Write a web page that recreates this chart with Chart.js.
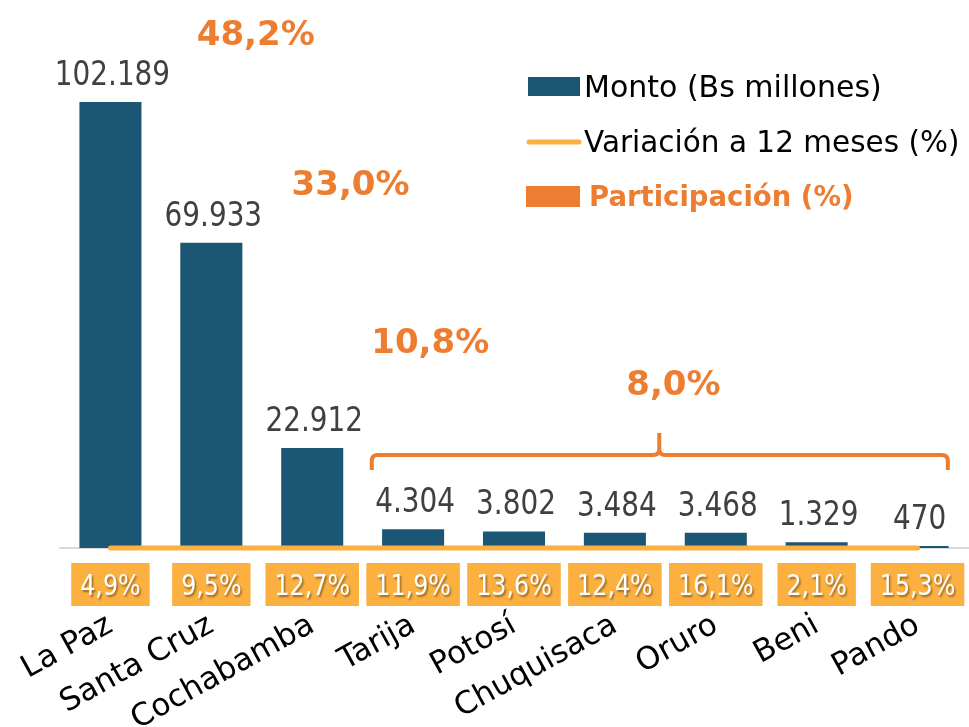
<!DOCTYPE html>
<html>
<head>
<meta charset="utf-8">
<script src="https://cdn.jsdelivr.net/npm/chart.js@4.4.1/dist/chart.umd.min.js"></script>
<style>
    body { margin: 0; background: #fff; }
    #wrap { width: 969px; height: 727px; position: relative; }
</style>
</head>
<body>
<div id="wrap"><canvas id="barchart"></canvas></div>
<script>
const departamentos = ['La Paz', 'Santa Cruz', 'Cochabamba', 'Tarija', 'Potosí', 'Chuquisaca', 'Oruro', 'Beni', 'Pando'];
const monto = [102189, 69933, 22912, 4304, 3802, 3484, 3468, 1329, 470];
const variacion = [4.9, 9.5, 12.7, 11.9, 13.6, 12.4, 16.1, 2.1, 15.3];
const participacion = [48.2, 33.0, 10.8, 8.0];

const navy = '#1B5674';
const gold = '#FBB040';
const orange = '#ED7D31';
const font = 'DejaVu Sans';

function fmtMiles(v) {
    return String(v).replace(/\B(?=(\d{3})+(?!\d))/g, '.');
}

function fmtPct(v) {
    return v.toFixed(1).replace('.', ',') + '%';
}

// narrow text (the original uses a condensed face)
function drawText(ctx, text, x, y, f, color, sx) {
    ctx.save();
    ctx.font = f;
    ctx.fillStyle = color;
    ctx.textAlign = 'center';
    ctx.textBaseline = 'alphabetic';
    ctx.translate(x, y);
    ctx.scale(sx, 1);
    ctx.fillText(text, 0, 0);
    ctx.restore();
}

const overlayPlugin = {
    id: 'overlay',
    afterDraw(chart) {
        const ctx = chart.ctx;
        const xs = chart.scales.x;
        const ys = chart.scales.y;
        const bottom = chart.chartArea.bottom;

        // values above bars
        const bars = chart.getDatasetMeta(0).data;
        bars.forEach(function(bar, i) {
            drawText(ctx, fmtMiles(monto[i]), bar.x + 2, bar.y - 17, '34px "' + font + '"', '#404040', 0.82);
        });

        // variation boxes under the axis
        variacion.forEach(function(v, i) {
            const x = xs.getPixelForValue(i);
            const txt = fmtPct(v);
            ctx.save();
            ctx.font = '29px "' + font + '"';
            const w = ctx.measureText(txt).width * 0.82 + 18;
            ctx.fillStyle = gold;
            ctx.fillRect(x - w / 2, bottom + 15, w, 43);
            ctx.restore();
            ctx.save();
            ctx.shadowColor = 'rgba(0,0,0,0.4)';
            ctx.shadowOffsetX = 1.5;
            ctx.shadowOffsetY = 1.5;
            ctx.shadowBlur = 2;
            drawText(ctx, txt, x, bottom + 47, '29px "' + font + '"', '#fff', 0.82);
            ctx.restore();
        });

        // participation annotations
        const partPos = [[1.44, 115270], [2.38, 80900], [3.17, 44690], [5.58, 35060]];
        participacion.forEach(function(p, i) {
            const x = xs.getPixelForValue(partPos[i][0]);
            const y = ys.getPixelForValue(partPos[i][1]);
            drawText(ctx, fmtPct(p), x, y, 'bold 34px "' + font + '"', orange, 1);
        });

        // bracket over the smaller departments
        const L = xs.getPixelForValue(2.59);
        const R = xs.getPixelForValue(8.30);
        const cx = xs.getPixelForValue(5.44);
        const yTop = ys.getPixelForValue(21310);
        const yBot = ys.getPixelForValue(17880);
        const ySpike = ys.getPixelForValue(26350);
        const r = 6;
        ctx.save();
        ctx.strokeStyle = orange;
        ctx.lineWidth = 4;
        ctx.beginPath();
        ctx.moveTo(L, yBot);
        ctx.lineTo(L, yTop + r);
        ctx.quadraticCurveTo(L, yTop, L + r, yTop);
        ctx.lineTo(cx - r, yTop);
        ctx.quadraticCurveTo(cx, yTop, cx, yTop - r);
        ctx.lineTo(cx, ySpike);
        ctx.moveTo(cx, yTop - r);
        ctx.quadraticCurveTo(cx, yTop, cx + r, yTop);
        ctx.lineTo(R - r, yTop);
        ctx.quadraticCurveTo(R, yTop, R, yTop + r);
        ctx.lineTo(R, yBot);
        ctx.stroke();
        ctx.restore();

        // legend
        ctx.save();
        ctx.fillStyle = navy;
        ctx.fillRect(528, 77, 52, 19);
        ctx.strokeStyle = gold;
        ctx.lineWidth = 5;
        ctx.lineCap = 'round';
        ctx.beginPath();
        ctx.moveTo(529, 142);
        ctx.lineTo(579, 142);
        ctx.stroke();
        ctx.fillStyle = orange;
        ctx.fillRect(526, 186, 54, 21);
        ctx.textAlign = 'left';
        ctx.textBaseline = 'alphabetic';
        ctx.fillStyle = '#000';
        ctx.font = '30px "' + font + '"';
        ctx.fillText(chart.data.datasets[0].label, 584, 97);
        ctx.font = '29.5px "' + font + '"';
        ctx.fillText(chart.data.datasets[1].label, 584, 152);
        ctx.fillStyle = orange;
        ctx.font = 'bold 27.5px "' + font + '"';
        ctx.fillText('Participación (%)', 589, 206);
        ctx.restore();
    }
};

function createChart() {
    const ctx = document.querySelector('#barchart').getContext('2d');

    const configuration = {
        type: 'bar',
        data: {
            labels: departamentos,
            datasets: [
                {
                    label: 'Monto (Bs millones)',
                    data: monto,
                    backgroundColor: navy,
                    categoryPercentage: 1,
                    barPercentage: 0.615,
                    order: 1
                },
                {
                    type: 'line',
                    label: 'Variación a 12 meses (%)',
                    data: variacion,
                    borderColor: gold,
                    borderWidth: 5,
                    borderCapStyle: 'round',
                    pointRadius: 0,
                    fill: false,
                    clip: false,
                    order: 0
                }
            ]
        },
        options: {
            responsive: true,
            maintainAspectRatio: false,
            animation: false,
            layout: {
                padding: { left: 60, right: 1, top: 68, bottom: 0 }
            },
            plugins: {
                legend: { display: false },
                tooltip: { enabled: false }
            },
            scales: {
                x: {
                    grid: { display: false, drawTicks: false },
                    border: { display: true, color: '#D9D9D9', width: 2 },
                    ticks: {
                        color: '#000',
                        font: { family: font, size: 31 },
                        minRotation: 29,
                        maxRotation: 29,
                        autoSkip: false,
                        padding: 59
                    },
                    afterFit: function(scale) {
                        scale.height = 179;
                        scale.paddingLeft = 0;
                        scale.paddingRight = 0;
                    }
                },
                y: {
                    display: false,
                    min: 0,
                    max: 110000
                }
            }
        },
        plugins: [overlayPlugin]
    };

    new Chart(ctx, configuration);
}

createChart();
</script>
</body>
</html>
